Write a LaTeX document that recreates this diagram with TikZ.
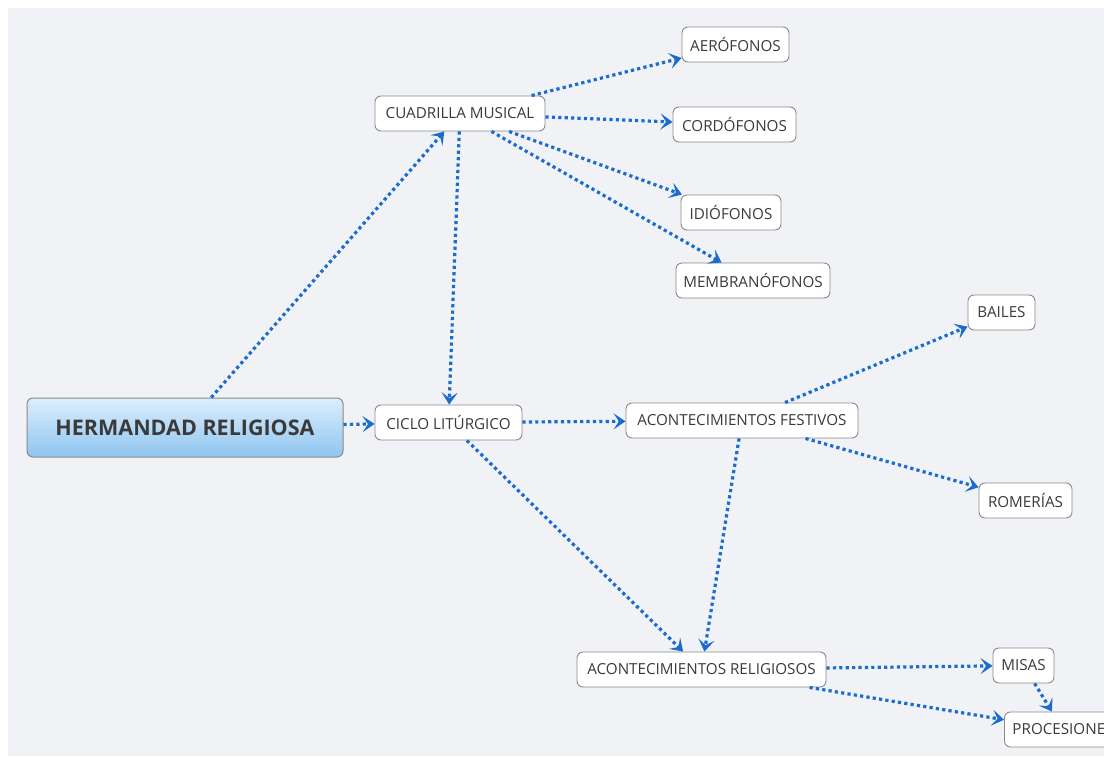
\documentclass[tikz,border=0pt]{standalone}
\usepackage{fontspec}
\setmainfont{Open Sans}
\usetikzlibrary{arrows.meta}
\definecolor{bgc}{HTML}{F1F2F6}
\definecolor{lnc}{HTML}{1A6CCE}
\definecolor{txc}{HTML}{3A3A3A}
\definecolor{bdc}{HTML}{8A8A8A}
\definecolor{htop}{HTML}{DDEEFC}
\definecolor{hbot}{HTML}{8EC5F0}
\tikzset{
  concept/.style={draw=bdc, line width=0.9pt, fill=white, rounded corners=6pt,
    minimum height=35pt, inner sep=0pt, text=txc, font=\fontsize{15.2}{17}\selectfont},
  rootbox/.style={draw=bdc, line width=1pt, rounded corners=6pt, top color=htop, bottom color=hbot,
    minimum height=59pt, inner sep=0pt, text=txc, font=\fontsize{21.5}{24}\selectfont\bfseries},
  link/.style={draw=lnc, line width=3.2pt, dash pattern=on 3.2pt off 3.2pt,
    -{Stealth[length=12pt,width=16pt,inset=5.5pt]}},
}
\begin{document}
\begin{tikzpicture}[x=1pt,y=-1pt]
\useasboundingbox (0,0) rectangle (1104,758);
\fill[white] (0,0) rectangle (1104,758);
\fill[bgc] (8,8) rectangle (1104,756);
\begin{scope}
\clip (0,0) rectangle (1104,758);
\node[rootbox, minimum width=316pt] (herm) at (185,427.5) {HERMANDAD RELIGIOSA};
\node[concept, minimum width=147pt] (ciclo) at (448.5,422.5) {CICLO LITÚRGICO};
\node[concept, minimum width=170pt] (cuad) at (460,113.5) {CUADRILLA MUSICAL};
\node[concept, minimum width=107pt] (aero) at (735.5,44.5) {AERÓFONOS};
\node[concept, minimum width=123pt] (cord) at (734.5,124.5) {CORDÓFONOS};
\node[concept, minimum width=100pt] (idio) at (731,212.5) {IDIÓFONOS};
\node[concept, minimum width=154pt] (memb) at (753,280.5) {MEMBRANÓFONOS};
\node[concept, minimum width=67pt] (bail) at (1001.5,312.5) {BAILES};
\node[concept, minimum width=232pt] (fest) at (742,420.5) {ACONTECIMIENTOS FESTIVOS};
\node[concept, minimum width=93pt] (rome) at (1025.5,500.5) {ROMERÍAS};
\node[concept, minimum width=249pt] (reli) at (701.5,669.5) {ACONTECIMIENTOS RELIGIOSOS};
\node[concept, minimum width=61pt] (misa) at (1023.5,665.5) {MISAS};
\node[concept, anchor=west, inner xsep=8pt] (proc) at (1004,729.5) {PROCESIONES};

\draw[link] (herm) -- (cuad);
\draw[link] (herm) -- (ciclo);
\draw[link] (cuad) -- (ciclo);
\draw[link] (cuad) -- (aero);
\draw[link] (cuad) -- (cord);
\draw[link] (cuad) -- (idio);
\draw[link] (cuad) -- (memb);
\draw[link] (ciclo) -- (fest);
\draw[link] (ciclo) -- (reli);
\draw[link] (fest) -- (reli);
\draw[link] (fest) -- (bail);
\draw[link] (fest) -- (rome);
\draw[link] (reli) -- (misa);
\draw[link] (reli) -- (proc);
\draw[link] (misa) -- (proc);
\end{scope}
\end{tikzpicture}
\end{document}
